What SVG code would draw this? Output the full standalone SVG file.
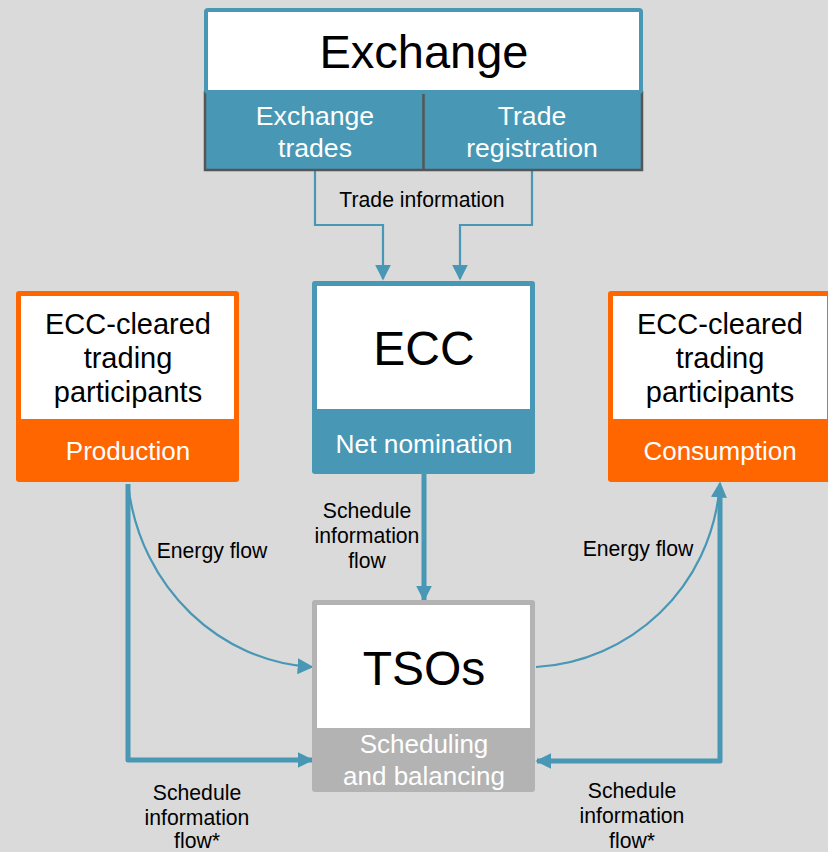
<svg xmlns="http://www.w3.org/2000/svg" width="828" height="852" viewBox="0 0 828 852">
<defs>
<style>
.t{font-family:"Liberation Sans",Arial,sans-serif;text-anchor:middle}
.blk{fill:#000}
.wht{fill:#fff}
.sm{font-size:21.2px}
.thin{fill:none;stroke:#4797B5;stroke-width:2.2}
.thick{fill:none;stroke:#4797B5;stroke-width:5;stroke-linejoin:round}
</style>
<marker id="ah" viewBox="0 0 10 10" refX="9" refY="5" markerWidth="16" markerHeight="16" markerUnits="userSpaceOnUse" orient="auto">
<path d="M0,0 L10,5 L0,10 z" fill="#4797B5"/>
</marker>
<marker id="ahs" viewBox="0 0 10 10" refX="9" refY="5" markerWidth="16" markerHeight="16" markerUnits="userSpaceOnUse" orient="auto">
<path d="M0,0 L10,5 L0,10 z" fill="#4797B5"/>
</marker>
</defs>
<rect x="0" y="0" width="828" height="852" fill="#DADADA"/>

<g id="connectors">
<path class="thin" d="M315,170 V225 H383 V279" marker-end="url(#ah)"/>
<path class="thin" d="M532,170 V225 H460 V279" marker-end="url(#ah)"/>
<path class="thick" d="M424,474 V600" marker-end="url(#ahs)"/>
<path class="thin" d="M128,484 C140,590 222,662 312,667" marker-end="url(#ah)"/>
<path class="thick" d="M128,484 V760 H312" marker-end="url(#ahs)"/>
<path class="thin" d="M536,667 C628,662 712,590 720,483" marker-end="url(#ah)"/>
<path class="thick" d="M720,495 V761 H537" marker-end="url(#ahs)"/>
<text class="t blk sm" x="422" y="207">Trade information</text>
<text class="t blk sm" x="367" y="518">Schedule</text>
<text class="t blk sm" x="367" y="543">information</text>
<text class="t blk sm" x="367" y="568">flow</text>
<text class="t blk sm" x="212" y="558">Energy flow</text>
<text class="t blk sm" x="638" y="556">Energy flow</text>
<text class="t blk sm" x="197" y="800">Schedule</text>
<text class="t blk sm" x="197" y="825">information</text>
<text class="t blk sm" x="197" y="848">flow*</text>
<text class="t blk sm" x="632" y="798">Schedule</text>
<text class="t blk sm" x="632" y="823">information</text>
<text class="t blk sm" x="632" y="848">flow*</text>
</g>

<g id="exchange">
<rect x="205" y="92" width="437" height="78" fill="#4797B5" stroke="#555" stroke-width="2.5"/>
<line x1="423.5" y1="92" x2="423.5" y2="170" stroke="#555" stroke-width="2.5"/>
<rect x="206" y="10" width="435" height="82" rx="2" fill="#fff" stroke="#4797B5" stroke-width="4"/>
<text class="t blk" x="424" y="68" font-size="47">Exchange</text>
<text class="t wht" x="315" y="125" font-size="26.6">Exchange</text>
<text class="t wht" x="315" y="157" font-size="26.6">trades</text>
<text class="t wht" x="532" y="125" font-size="26.6">Trade</text>
<text class="t wht" x="532" y="157" font-size="26.6">registration</text>
</g>

<g id="ecc">
<rect x="312" y="281" width="223" height="193" rx="3" fill="#4797B5"/>
<rect x="317" y="286" width="213" height="123" fill="#fff"/>
<text class="t blk" x="424" y="365" font-size="48">ECC</text>
<text class="t wht" x="424" y="453" font-size="26.3">Net nomination</text>
</g>

<g id="production">
<rect x="16" y="291" width="223" height="191" rx="3" fill="#FF6600"/>
<rect x="21" y="296" width="213" height="123" fill="#fff"/>
<text class="t blk" x="128" y="334" font-size="29">ECC-cleared</text>
<text class="t blk" x="128" y="368" font-size="29">trading</text>
<text class="t blk" x="128" y="402" font-size="29">participants</text>
<text class="t wht" x="128" y="460" font-size="26">Production</text>
</g>

<g id="consumption">
<rect x="608" y="291" width="224" height="191" rx="3" fill="#FF6600"/>
<rect x="613" y="296" width="214" height="123" fill="#fff"/>
<text class="t blk" x="720" y="334" font-size="29">ECC-cleared</text>
<text class="t blk" x="720" y="368" font-size="29">trading</text>
<text class="t blk" x="720" y="402" font-size="29">participants</text>
<text class="t wht" x="720" y="460" font-size="26">Consumption</text>
</g>

<g id="tsos">
<rect x="312" y="600" width="223" height="192" rx="3" fill="#B3B3B3"/>
<rect x="317" y="605" width="213" height="123" fill="#fff"/>
<text class="t blk" x="424" y="685" font-size="48">TSOs</text>
<text class="t wht" x="424" y="753" font-size="26">Scheduling</text>
<text class="t wht" x="424" y="785" font-size="26">and balancing</text>
</g>
</svg>
